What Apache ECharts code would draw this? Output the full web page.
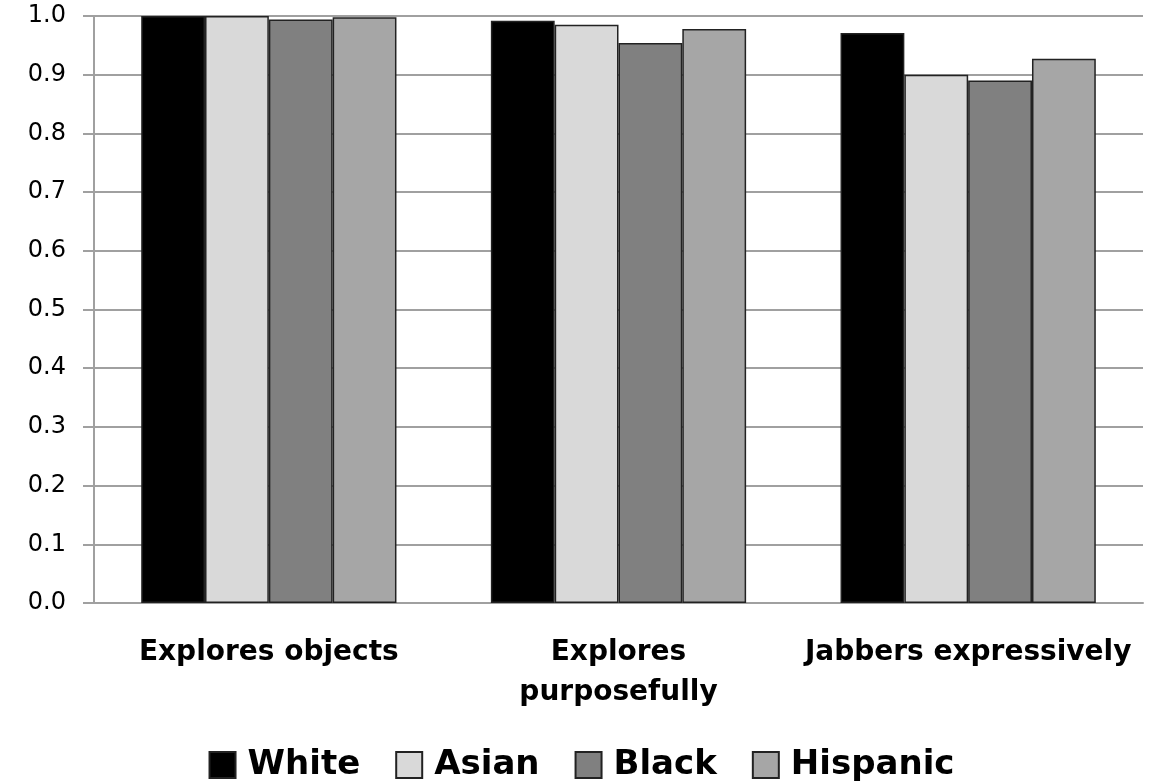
<!DOCTYPE html>
<html><head><meta charset="utf-8">
<script src="https://cdn.jsdelivr.net/npm/echarts@6/dist/echarts.min.js"></script>
<style>html,body{margin:0;padding:0;background:#fff}#c{width:1163px;height:782px}</style>
</head><body><div id="c"></div>
<script>
const categories = ['Explores objects', 'Explores\npurposefully', 'Jabbers expressively'];
const seriesNames = ['White', 'Asian', 'Black', 'Hispanic'];
const white = [1.0, 0.992, 0.971];
const asian = [1.0, 0.985, 0.900];
const black = [0.994, 0.954, 0.890];
const hispanic = [0.998, 0.978, 0.927];
const yTicks = [0, 0.1, 0.2, 0.3, 0.4, 0.5, 0.6, 0.7, 0.8, 0.9, 1.0];

const colors = ['#000000', '#d9d9d9', '#808080', '#a6a6a6'];
const values = [white, asian, black, hispanic];
const chart = echarts.init(document.getElementById('c'), null, {renderer: 'canvas'});
chart.setOption({
  animation: false,
  grid: {left: 94, right: 20, top: 16, bottom: 179, containLabel: false},
  legend: {
    data: seriesNames, top: 743, left: 'center',
    itemWidth: 26, itemHeight: 26, itemGap: 35,
    textStyle: {fontFamily: 'DejaVu Sans', fontWeight: 'bold', fontSize: 34, color: '#000', padding: [0, 0, 0, 7]},
    icon: 'rect'
  },
  xAxis: {
    type: 'category', data: categories,
    axisLine: {lineStyle: {color: '#a0a0a0', width: 2}},
    axisTick: {show: false},
    axisLabel: {interval: 0, margin: 30, fontFamily: 'DejaVu Sans', fontWeight: 'bold', fontSize: 28, color: '#000', lineHeight: 40}
  },
  yAxis: {
    type: 'value', min: 0, max: 1, interval: 0.1,
    axisLine: {show: true, lineStyle: {color: '#a0a0a0', width: 2}},
    axisTick: {show: true, length: 11, lineStyle: {color: '#a0a0a0', width: 2}},
    splitLine: {lineStyle: {color: '#a0a0a0', width: 2}},
    axisLabel: {margin: 28, fontFamily: 'DejaVu Sans', fontSize: 24, color: '#000',
      formatter: v => yTicks.includes(Math.round(v*10)/10) ? v.toFixed(1) : ''}
  },
  series: seriesNames.map((n, i) => ({
    name: n, type: 'bar', data: values[i],
    barGap: '0%', barCategoryGap: '27%',
    itemStyle: {color: colors[i], borderColor: '#222', borderWidth: 1.5}
  }))
});
</script></body></html>
